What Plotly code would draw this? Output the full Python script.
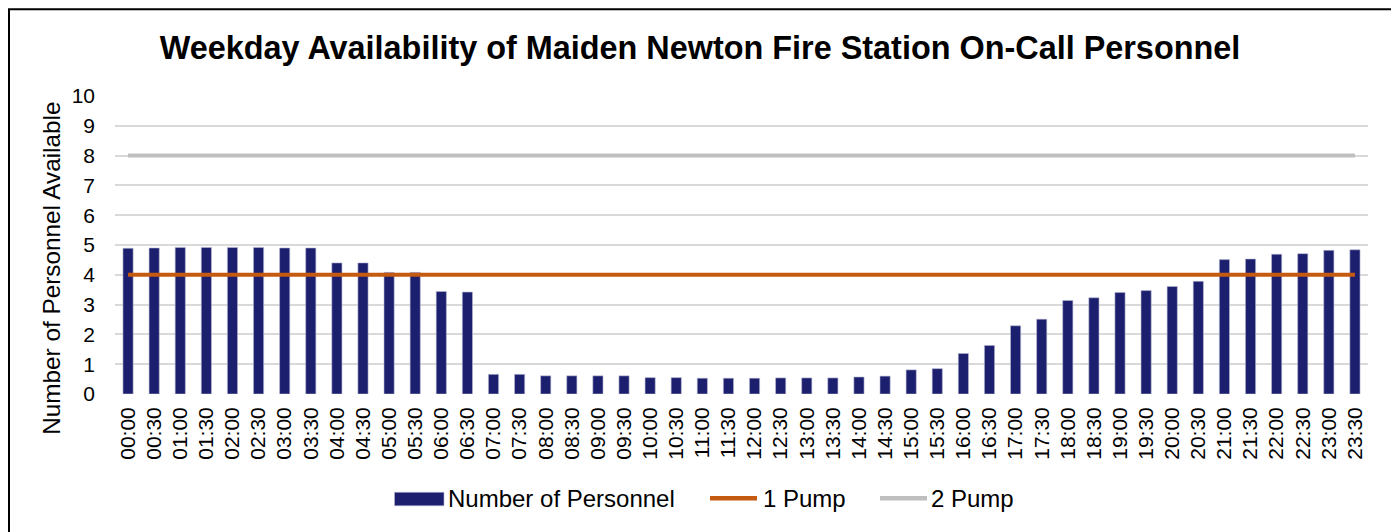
import plotly.graph_objects as go

times = [f"{h:02d}:{m:02d}" for h in range(24) for m in (0, 30)]
personnel = [4.89, 4.90, 4.92, 4.92, 4.92, 4.92, 4.90, 4.90, 4.40, 4.40, 4.08, 4.08,
             3.44, 3.42, 0.66, 0.66, 0.61, 0.61, 0.61, 0.61, 0.55, 0.55, 0.53, 0.53,
             0.53, 0.54, 0.54, 0.54, 0.57, 0.60, 0.81, 0.85, 1.36, 1.63, 2.29, 2.51,
             3.14, 3.23, 3.41, 3.47, 3.61, 3.78, 4.51, 4.53, 4.69, 4.71, 4.82, 4.84]
pump1 = [4] * len(times)
pump2 = [8] * len(times)
yticks = list(range(0, 11))
series_names = ["Number of Personnel", "1 Pump", "2 Pump"]
series_colors = ["#1c1f6e", "#c55a11", "#bfbfbf"]

# page body has an 8px margin; work in figure coordinates (screen - 8)
OFF = 8
W, H = 1399 - OFF, 532 - OFF
PX0, PX1, PY0, PY1 = 115, 1368, 96, 394.5  # plot area on screen
L = PX0 - OFF
R = W - (PX1 - OFF)
T = PY0 - OFF
B = H - (PY1 - OFF)
pw, ph = W - L - R, H - T - B


def px(X):
    return (X - PX0) / pw


def py(Y):
    return (PY1 - Y) / ph


FONT = "Liberation Sans, Arial, sans-serif"

fig = go.Figure()
fig.add_trace(go.Bar(x=times, y=personnel, name=series_names[0],
                     marker=dict(color=series_colors[0], line=dict(color="#b8bad4", width=0.6)),
                     width=0.39, showlegend=False))
fig.add_trace(go.Scatter(x=times, y=pump1, name=series_names[1], mode="lines",
                         line=dict(color=series_colors[1], width=4), showlegend=False))
fig.add_trace(go.Scatter(x=times, y=pump2, name=series_names[2], mode="lines",
                         line=dict(color=series_colors[2], width=4), showlegend=False))

fig.update_layout(
    width=W, height=H,
    margin=dict(l=L, r=R, t=T, b=B, autoexpand=False),
    paper_bgcolor="white", plot_bgcolor="white",
    font=dict(family=FONT, color="#000000", size=21),
    title=dict(text="<b>Weekday Availability of Maiden Newton Fire Station On-Call Personnel</b>",
               x=(700 - OFF) / W, xanchor="center", y=1 - (48 - OFF) / H, yanchor="middle",
               font=dict(size=32.4, family=FONT, color="#000000")),
    xaxis=dict(type="category", tickangle=-90, showgrid=False, ticks="",
               tickfont=dict(size=21), showline=False, zeroline=False,
               ticklabelstandoff=8),
    yaxis=dict(range=[0, 10], tickvals=yticks, ticktext=[str(v) for v in yticks],
               showgrid=True, gridcolor="#d9d9d9", gridwidth=1.5, zeroline=False,
               ticks="", ticklabelstandoff=19, tickfont=dict(size=21)),
    showlegend=False,
)

# y-axis title (positioned like the reference, slightly below plot centre)
fig.add_annotation(text="Number of Personnel Available", xref="paper", yref="paper",
                   x=px(51.5), y=py(268.5), xanchor="center", yanchor="middle",
                   textangle=-90, showarrow=False, font=dict(size=24.3, family=FONT))

# custom legend (matches reference symbol sizes and spacing)
LEG_Y = 499
fig.add_shape(type="rect", xref="paper", yref="paper",
              x0=px(394.5), x1=px(444), y0=py(506.5), y1=py(493),
              fillcolor=series_colors[0], line=dict(color="#b8bad4", width=0.6))
fig.add_shape(type="line", xref="paper", yref="paper",
              x0=px(710), x1=px(757), y0=py(LEG_Y), y1=py(LEG_Y),
              line=dict(color=series_colors[1], width=4.5))
fig.add_shape(type="line", xref="paper", yref="paper",
              x0=px(880), x1=px(927), y0=py(LEG_Y), y1=py(LEG_Y),
              line=dict(color=series_colors[2], width=4.5))
for name, X in zip(series_names, [446, 761, 929]):
    fig.add_annotation(text=name, xref="paper", yref="paper", x=px(X), y=py(LEG_Y),
                       xanchor="left", yanchor="middle", showarrow=False,
                       font=dict(size=24, family=FONT))

# chart border
fig.add_shape(type="rect", xref="paper", yref="paper",
              x0=px(OFF + 1), x1=px(1395), y0=py(H + OFF + 20), y1=py(OFF + 1),
              line=dict(color="black", width=2), fillcolor="rgba(0,0,0,0)", layer="below")

fig.write_html("out.html")
